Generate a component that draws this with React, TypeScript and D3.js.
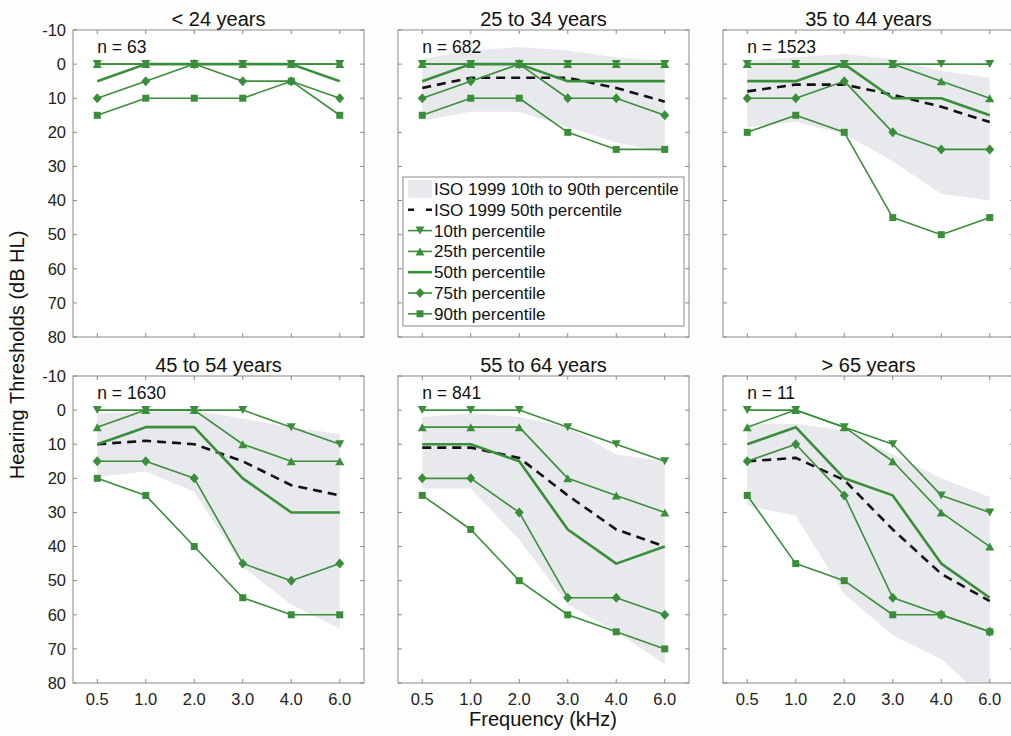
import React from 'react';
import * as d3 from 'd3';

const freqs = ['0.5', '1.0', '2.0', '3.0', '4.0', '6.0'];
const ageGroups = ['< 24 years', '25 to 34 years', '35 to 44 years', '45 to 54 years', '55 to 64 years', '> 65 years'];
const sampleSizes = [63, 682, 1523, 1630, 841, 11];
const yTicks = [-10, 0, 10, 20, 30, 40, 50, 60, 70, 80];

// measured percentiles, one row per age group
const p10 = [
  [0, 0, 0, 0, 0, 0],
  [0, 0, 0, 0, 0, 0],
  [0, 0, 0, 0, 0, 0],
  [0, 0, 0, 0, 5, 10],
  [0, 0, 0, 5, 10, 15],
  [0, 0, 5, 10, 25, 30],
];
const p25 = [
  [0, 0, 0, 0, 0, 0],
  [0, 0, 0, 0, 0, 0],
  [0, 0, 0, 0, 5, 10],
  [5, 0, 0, 10, 15, 15],
  [5, 5, 5, 20, 25, 30],
  [5, 0, 5, 15, 30, 40],
];
const p50 = [
  [5, 0, 0, 0, 0, 5],
  [5, 0, 0, 5, 5, 5],
  [5, 5, 0, 10, 10, 15],
  [10, 5, 5, 20, 30, 30],
  [10, 10, 15, 35, 45, 40],
  [10, 5, 20, 25, 45, 55],
];
const p75 = [
  [10, 5, 0, 5, 5, 10],
  [10, 5, 0, 10, 10, 15],
  [10, 10, 5, 20, 25, 25],
  [15, 15, 20, 45, 50, 45],
  [20, 20, 30, 55, 55, 60],
  [15, 10, 25, 55, 60, 65],
];
const p90 = [
  [15, 10, 10, 10, 5, 15],
  [15, 10, 10, 20, 25, 25],
  [20, 15, 20, 45, 50, 45],
  [20, 25, 40, 55, 60, 60],
  [25, 35, 50, 60, 65, 70],
  [25, 45, 50, 60, 60, 65],
];

// ISO 1999 reference (null = not shown)
const iso50 = [
  null,
  [7, 4, 4, 4, 7, 11],
  [8, 6, 6, 9, 12.5, 17],
  [10, 9, 10, 15, 22, 25],
  [11, 11, 14, 25, 35, 40],
  [15, 14, 20.5, 35, 48, 56],
];
const iso10 = [
  null,
  [-1.5, -4, -5, -4, -2, -1],
  [-1, -2, -3, -1.5, 2, 4],
  [1, 0.5, 0, 2.5, 5, 7],
  [2, 1, 2, 5, 13, 15],
  [4, 4, 6, 13, 20, 25.5],
];
const iso90 = [
  null,
  [16.5, 14, 14, 18.5, 23, 26],
  [18.5, 17, 20.5, 28.5, 38, 40],
  [19.5, 18, 24, 46, 57, 64],
  [23, 23, 38, 57, 65, 74.5],
  [28, 31, 54, 66, 73, 86],
];

const legendLabels = [
  'ISO 1999 10th to 90th percentile',
  'ISO 1999 50th percentile',
  '10th percentile',
  '25th percentile',
  '50th percentile',
  '75th percentile',
  '90th percentile',
];

const GREEN = '#3a8e3a';
const BAND = '#e7e9ec';
const AXIS = '#8a8a8a';
const FONT = '"Liberation Sans", Arial, Helvetica, sans-serif';

const colLeft = [73, 398, 723];
const rowTop = [30, 376];
const panelW = 291;
const panelH = 307;

type MarkerKind = 'down' | 'up' | 'none' | 'diamond' | 'square';

const Marker = ({ kind, x, y }: { kind: MarkerKind; x: number; y: number }) => {
  if (kind === 'none') return null;
  if (kind === 'square') return <rect x={x - 3.5} y={y - 3.5} width={7} height={7} fill={GREEN} />;
  let pts = '';
  if (kind === 'down') pts = `${x - 4.5},${y - 4} ${x + 4.5},${y - 4} ${x},${y + 4}`;
  if (kind === 'up') pts = `${x - 4.5},${y + 4} ${x + 4.5},${y + 4} ${x},${y - 4}`;
  if (kind === 'diamond') pts = `${x - 4.5},${y} ${x},${y - 5} ${x + 4.5},${y} ${x},${y + 5}`;
  return <polygon points={pts} fill={GREEN} />;
};

const seriesDefs: { data: number[][]; marker: MarkerKind; width: number }[] = [
  { data: p10, marker: 'down', width: 1.6 },
  { data: p25, marker: 'up', width: 1.6 },
  { data: p50, marker: 'none', width: 2.6 },
  { data: p75, marker: 'diamond', width: 1.6 },
  { data: p90, marker: 'square', width: 1.6 },
];

const Panel = ({ idx }: { idx: number }) => {
  const col = idx % 3;
  const row = Math.floor(idx / 3);
  const left = colLeft[col];
  const top = rowTop[row];

  const x = d3.scalePoint<string>().domain(freqs).range([left, left + panelW]).padding(0.5);
  const y = d3.scaleLinear().domain([-10, 80]).range([top, top + panelH]);

  const line = d3.line<number>()
    .x((_, i) => x(freqs[i]) as number)
    .y(d => y(d));

  const area = d3.area<number>()
    .x((_, i) => x(freqs[i]) as number)
    .y0((_, i) => y((iso90[idx] as number[])[i]))
    .y1((_, i) => y((iso10[idx] as number[])[i]));

  const clipId = `clip-${idx}`;

  return (
    <g>
      <clipPath id={clipId}>
        <rect x={left} y={top} width={panelW} height={panelH} />
      </clipPath>
      <rect x={left} y={top} width={panelW} height={panelH} fill="#fff" />
      <g clipPath={`url(#${clipId})`}>
        {iso10[idx] && <path d={area(iso10[idx] as number[]) || ''} fill={BAND} />}
        {iso50[idx] && (
          <path d={line(iso50[idx] as number[]) || ''} fill="none" stroke="#111" strokeWidth={2.6} strokeDasharray="9,6" />
        )}
        {seriesDefs.map((s, si) => (
          <g key={si}>
            <path d={line(s.data[idx]) || ''} fill="none" stroke={GREEN} strokeWidth={s.width} strokeLinejoin="round" />
            {s.data[idx].map((v, i) => (
              <Marker key={i} kind={s.marker} x={x(freqs[i]) as number} y={y(v)} />
            ))}
          </g>
        ))}
      </g>
      {/* ticks */}
      {yTicks.map(t => (
        <g key={t}>
          <line x1={left} x2={left + 4} y1={y(t)} y2={y(t)} stroke={AXIS} />
          <line x1={left + panelW - 4} x2={left + panelW} y1={y(t)} y2={y(t)} stroke={AXIS} />
          {col === 0 && (
            <text x={left - 7} y={y(t)} dy="0.35em" textAnchor="end" fontSize={16.5} fill="#222">{t}</text>
          )}
        </g>
      ))}
      {freqs.map(f => (
        <g key={f}>
          <line x1={x(f)} x2={x(f)} y1={top} y2={top + 4} stroke={AXIS} />
          <line x1={x(f)} x2={x(f)} y1={top + panelH - 4} y2={top + panelH} stroke={AXIS} />
          {row === 1 && (
            <text x={x(f)} y={top + panelH + 16} dy="0.35em" textAnchor="middle" fontSize={16.5} fill="#222">{f}</text>
          )}
        </g>
      ))}
      <rect x={left} y={top} width={panelW} height={panelH} fill="none" stroke={AXIS} strokeWidth={1} />
      <text x={left + panelW / 2} y={top - 4} textAnchor="middle" fontSize={20} fill="#111">{ageGroups[idx]}</text>
      <text x={x(freqs[0])} y={top + 17} dy="0.35em" fontSize={17.5} fill="#111">n = {sampleSizes[idx]}</text>
    </g>
  );
};

const Legend = () => {
  const lx = 403;
  const ly = 177;
  const w = 281;
  const h = 149;
  const rowH = 20.8;
  const markers: MarkerKind[] = ['down', 'up', 'none', 'diamond', 'square'];
  return (
    <g>
      <rect x={lx} y={ly} width={w} height={h} fill="#fff" stroke={AXIS} />
      {legendLabels.map((label, i) => {
        const cy = ly + 12 + i * rowH;
        let sample: React.ReactNode = null;
        if (i === 0) sample = <rect x={lx + 5} y={cy - 9} width={24} height={18} fill={BAND} />;
        else if (i === 1)
          sample = <line x1={lx + 5} x2={lx + 30} y1={cy} y2={cy} stroke="#111" strokeWidth={2.6} strokeDasharray="6,12" />;
        else {
          const m = markers[i - 2];
          sample = (
            <g>
              <line x1={lx + 5} x2={lx + 29} y1={cy} y2={cy} stroke={GREEN} strokeWidth={m === 'none' ? 2.6 : 1.6} />
              <Marker kind={m} x={lx + 17} y={cy} />
            </g>
          );
        }
        return (
          <g key={label}>
            {sample}
            <text x={lx + 31} y={cy} dy="0.35em" fontSize={17} fill="#111">{label}</text>
          </g>
        );
      })}
    </g>
  );
};

const App = () => {
  return (
    <div style={{ position: 'absolute', left: 0, top: 0 }}>
      <svg width={1011} height={736} style={{ display: 'block', background: '#fdfdfb', fontFamily: FONT }}>
        {ageGroups.map((_, i) => (
          <Panel key={i} idx={i} />
        ))}
        <Legend />
        <text transform="translate(24,355) rotate(-90)" textAnchor="middle" fontSize={20} fill="#111">
          Hearing Thresholds (dB HL)
        </text>
        <text x={543} y={719} dy="0.35em" textAnchor="middle" fontSize={20} fill="#111">Frequency (kHz)</text>
      </svg>
    </div>
  );
};

export default App;
